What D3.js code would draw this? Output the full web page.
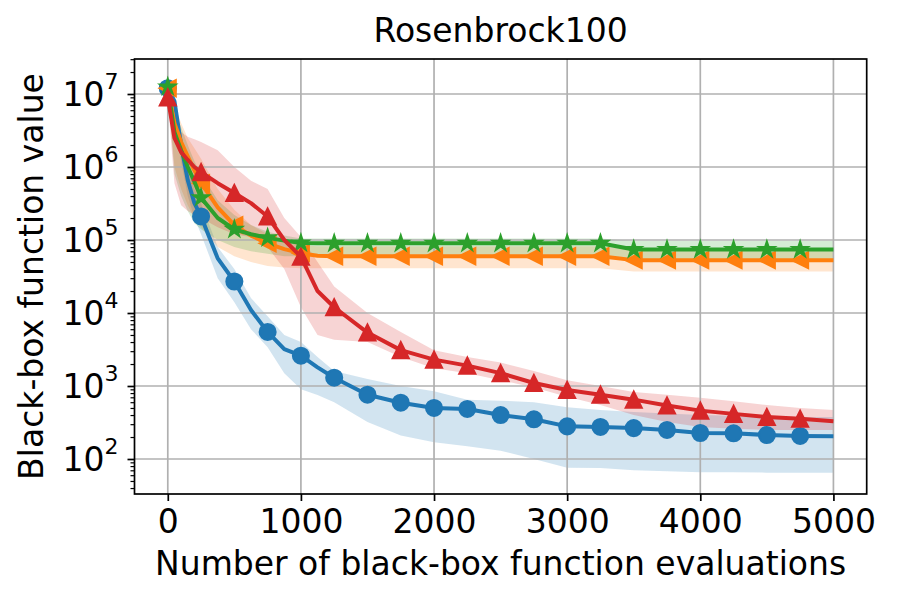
<!DOCTYPE html>
<html>

<head>
  <meta charset="UTF-8">
  <script src="https://d3js.org/d3.v7.min.js"></script>
  <style>
    body { margin: 0; background: #fff; }
    text { font-family: "DejaVu Sans", sans-serif; fill: #000; }
  </style>
</head>

<body>
  <div id="chart"></div>

  <script>
    // data

    const evals = [0, 50, 100, 150, 200, 250, 375, 500, 625, 750, 875, 1000, 1125, 1250,
      1500, 1750, 2000, 2250, 2500, 2750, 3000, 3250, 3500, 3750, 4000, 4250, 4500, 4750, 5000];

    // blue, circles
    const blueMean = [1.2e7, 8e6, 2e6, 6.6e5, 3.2e5, 2.1e5, 5.6e4, 2.7e4, 1.1e4, 5.5e3, 3.2e3, 2.6e3, 1.8e3, 1.3e3,
      760, 590, 500, 485, 400, 350, 280, 275, 265, 250, 227, 225, 213, 207, 205];
    const blueLo = [1.1e7, 5e6, 1.2e6, 4e5, 2e5, 1.2e5, 3e4, 1.4e4, 6e3, 3.4e3, 1.5e3, 900, 750, 600,
      320, 210, 170, 150, 130, 100, 76, 75, 70, 68, 66, 66, 65, 65, 65];
    const blueHi = [1.3e7, 1e7, 3e6, 1e6, 5e5, 3.2e5, 8e4, 4e4, 1.6e4, 9e3, 5e3, 4e3, 2.5e3, 1.6e3,
      1.25e3, 1e3, 850, 650, 630, 600, 510, 470, 440, 420, 400, 390, 380, 375, 375];

    // orange, left triangles
    const orangeMean = [1.2e7, 4e6, 2.2e6, 1.4e6, 9e5, 6e5, 2.8e5, 1.6e5, 1.15e5, 9e4, 7.5e4, 6.6e4, 6.1e4, 6e4,
      6e4, 6e4, 6e4, 6e4, 6e4, 6e4, 6e4, 6e4, 5.3e4, 5.3e4, 5.3e4, 5.3e4, 5.3e4, 5.3e4, 5.3e4];
    const orangeLo = [1.1e7, 1e6, 5e5, 3e5, 2e5, 1.5e5, 8e4, 6e4, 5e4, 4.4e4, 4.2e4, 4.1e4, 4.1e4, 4.1e4,
      4.1e4, 4.1e4, 4.1e4, 4.1e4, 4.1e4, 4.1e4, 4.1e4, 4.1e4, 3.7e4, 3.7e4, 3.7e4, 3.7e4, 3.7e4, 3.7e4, 3.7e4];
    const orangeHi = [1.4e7, 7e6, 4e6, 2.5e6, 1.8e6, 1.3e6, 5e5, 2.6e5, 1.6e5, 1.2e5, 9.5e4, 8.5e4, 8.2e4, 8.2e4,
      8.2e4, 8.2e4, 8.2e4, 8.2e4, 8.2e4, 8.2e4, 8.2e4, 8.2e4, 7.3e4, 7.3e4, 7.3e4, 7.3e4, 7.3e4, 7.3e4, 7.3e4];

    // green, stars
    const greenMean = [1.25e7, 3e6, 1.7e6, 1e6, 6.3e5, 3.8e5, 2e5, 1.4e5, 1.2e5, 1.07e5, 9.8e4, 9.1e4, 9e4, 9e4,
      9e4, 9e4, 9e4, 9e4, 9e4, 9e4, 9e4, 9e4, 7.4e4, 7.4e4, 7.4e4, 7.4e4, 7.4e4, 7.4e4, 7.4e4];
    const greenLo = [1.1e7, 8e5, 4e5, 2.5e5, 1.7e5, 1.4e5, 1e5, 8e4, 7e4, 6.5e4, 6e4, 6e4, 5.9e4, 5.9e4,
      5.9e4, 5.9e4, 5.9e4, 5.9e4, 5.9e4, 5.9e4, 5.9e4, 5.9e4, 5.1e4, 5.1e4, 5.1e4, 5.1e4, 5.1e4, 5.1e4, 5.1e4];
    const greenHi = [1.4e7, 6e6, 3.5e6, 2e6, 1.2e6, 8e5, 3.5e5, 2.2e5, 1.6e5, 1.3e5, 1.15e5, 1.05e5, 1.05e5, 1.05e5,
      1.05e5, 1.05e5, 1.05e5, 1.05e5, 1.05e5, 1.05e5, 1.05e5, 1.05e5, 9.8e4, 9.8e4, 9.8e4, 9.8e4, 9.8e4, 9.8e4, 9.8e4];

    // red, triangles
    const redMean = [9e6, 2.5e6, 1.6e6, 1.25e6, 1e6, 8.5e5, 6e5, 4.4e5, 3.2e5, 2.1e5, 1e5, 5.9e4, 2e4, 1.2e4,
      5.4e3, 3.1e3, 2.3e3, 1.9e3, 1.5e3, 1.1e3, 880, 760, 650, 540, 460, 415, 376, 355, 330];
    const redLo = [8e6, 6e5, 3e5, 2.5e5, 2.2e5, 2e5, 1.5e5, 1.2e5, 1.1e5, 8e4, 4e4, 1.2e4, 5e3, 4.3e3,
      4e3, 2.5e3, 1.75e3, 1.5e3, 1.2e3, 950, 710, 550, 400, 320, 275, 260, 250, 250, 250];
    const redHi = [1e7, 4e6, 3e6, 2.6e6, 2.4e6, 2.2e6, 1.7e6, 1e6, 6.5e5, 5e5, 2e5, 1.1e5, 5e4, 2.3e4,
      1e4, 5.5e3, 3.1e3, 2.5e3, 2.1e3, 1.6e3, 1.2e3, 1e3, 830, 760, 690, 620, 550, 500, 470];

    const xTicks = [0, 1000, 2000, 3000, 4000, 5000];
    const yTicks = [1e2, 1e3, 1e4, 1e5, 1e6, 1e7];
    const yTickExp = ["2", "3", "4", "5", "6", "7"];

    // set up

    const margin = { top: 59, right: 33.3, bottom: 106, left: 134.5 };
    const width = 900 - margin.left - margin.right;
    const height = 600 - margin.top - margin.bottom;

    const root = d3.select('#chart')
      .append('svg')
        .attr('width', 900)
        .attr('height', 600);

    const svg = root.append('g')
        .attr('transform', `translate(${margin.left},${margin.top})`);

    svg.append('clipPath').attr('id', 'plot')
      .append('rect').attr('width', width).attr('height', height);

    // scales

    const x = d3.scaleLinear()
        .domain([-250, 5250])
        .range([0, width]);

    const y = d3.scaleLog()
        .domain([Math.pow(10, 1.5205), Math.pow(10, 7.4795)])
        .range([height, 0]);

    const series = [
      { mean: blueMean, lo: blueLo, hi: blueHi, color: '#1f77b4', marker: 'circle' },
      { mean: orangeMean, lo: orangeLo, hi: orangeHi, color: '#ff7f0e', marker: 'left' },
      { mean: greenMean, lo: greenLo, hi: greenHi, color: '#2ca02c', marker: 'star' },
      { mean: redMean, lo: redLo, hi: redHi, color: '#d62728', marker: 'up' },
    ];

    const idx = evals.map((_, i) => i);

    // bands (below grid and lines, like matplotlib)

    const bands = svg.append('g').attr('clip-path', 'url(#plot)');
    series.forEach(s => {
      const area = d3.area()
          .x(i => x(evals[i]))
          .y0(i => y(s.lo[i]))
          .y1(i => y(s.hi[i]));
      bands.append('path')
          .attr('d', area(idx))
          .attr('fill', s.color)
          .attr('fill-opacity', 0.2);
    });

    // grid

    const grid = svg.append('g')
        .attr('stroke', '#b0b0b0')
        .attr('stroke-width', 1.7);

    grid.selectAll('.gx')
      .data(xTicks)
      .join('line')
        .attr('x1', d => x(d)).attr('x2', d => x(d))
        .attr('y1', 0).attr('y2', height);

    grid.selectAll('.gy')
      .data(yTicks)
      .join('line')
        .attr('x1', 0).attr('x2', width)
        .attr('y1', d => y(d)).attr('y2', d => y(d));

    // markers

    const r = 8;
    const starPts = d3.range(10).map(k => {
      const a = Math.PI / 2 + k * Math.PI / 5;
      const rr = k % 2 ? r * 0.381966 : r;
      return [rr * Math.cos(a), -rr * Math.sin(a)];
    });
    const markerPath = {
      up: `M0,${-r}L${-r},${r}L${r},${r}Z`,
      left: `M${-r},0L${r},${-r}L${r},${r}Z`,
      star: 'M' + starPts.map(p => p.join(',')).join('L') + 'Z',
    };

    // lines and markers

    const markIdx = idx.filter(i => evals[i] % 250 === 0 && evals[i] < 5000);

    const lines = svg.append('g').attr('clip-path', 'url(#plot)');
    series.forEach(s => {
      const line = d3.line()
          .x(i => x(evals[i]))
          .y(i => y(s.mean[i]));

      const g = lines.append('g');
      g.append('path')
          .attr('d', line(idx))
          .attr('fill', 'none')
          .attr('stroke', s.color)
          .attr('stroke-width', 4)
          .attr('stroke-linejoin', 'round');

      const m = g.selectAll('.m')
        .data(markIdx)
        .join(s.marker === 'circle' ? 'circle' : 'path')
          .attr('fill', s.color)
          .attr('stroke', s.color)
          .attr('stroke-width', 2.08);

      if (s.marker === 'circle') {
        m.attr('cx', i => x(evals[i])).attr('cy', i => y(s.mean[i])).attr('r', r);
      } else {
        m.attr('d', markerPath[s.marker])
         .attr('transform', i => `translate(${x(evals[i])},${y(s.mean[i])})`);
      }
    });

    // axes

    const xAxis = d3.axisBottom(x)
        .tickValues(xTicks)
        .tickFormat(d3.format('d'))
        .tickSize(7)
        .tickPadding(9);

    svg.append('g')
        .attr('transform', `translate(0,${height})`)
        .call(xAxis)
        .call(g => g.select('.domain').remove())
        .call(g => g.selectAll('line').attr('stroke-width', 1.7))
        .call(g => g.selectAll('text')
          .attr('font-size', 33)
          .attr('font-family', '"DejaVu Sans", sans-serif'));

    const yMinor = [];
    for (let e = 1; e <= 7; e++) {
      for (let k = 2; k <= 9; k++) {
        const v = k * Math.pow(10, e);
        if (v >= y.domain()[0] && v <= y.domain()[1]) yMinor.push(v);
      }
    }

    svg.append('g')
        .call(d3.axisLeft(y).tickValues(yMinor).tickSize(4).tickFormat(''))
        .call(g => g.select('.domain').remove())
        .call(g => g.selectAll('line').attr('stroke-width', 1.2));

    svg.append('g')
        .call(d3.axisLeft(y).tickValues(yTicks).tickSize(7).tickFormat(''))
        .call(g => g.select('.domain').remove())
        .call(g => g.selectAll('line').attr('stroke-width', 1.7));

    // y tick labels, 10 with superscript
    const yLab = svg.append('g')
      .selectAll('text')
      .data(yTicks)
      .join('text')
        .attr('text-anchor', 'end')
        .attr('x', -16)
        .attr('y', d => y(d) + 12)
        .attr('font-size', 33);
    yLab.append('tspan').text('10');
    yLab.append('tspan')
        .attr('dy', -17)
        .attr('font-size', 22)
        .text((d, i) => yTickExp[i]);

    // frame
    svg.append('rect')
        .attr('width', width)
        .attr('height', height)
        .attr('fill', 'none')
        .attr('stroke', '#000')
        .attr('stroke-width', 1.7);

    // labels

    svg.append('text')
        .attr('text-anchor', 'middle')
        .attr('x', width / 2)
        .attr('y', -17.3)
        .attr('font-size', 33)
        .text('Rosenbrock100');

    svg.append('text')
        .attr('text-anchor', 'middle')
        .attr('x', width / 2)
        .attr('y', 516)
        .attr('font-size', 33)
        .text('Number of black-box function evaluations');

    root.append('text')
        .attr('text-anchor', 'middle')
        .attr('transform', `translate(43,${margin.top + height / 2}) rotate(-90)`)
        .attr('font-size', 33)
        .text('Black-box function value');
  </script>
</body>

</html>
